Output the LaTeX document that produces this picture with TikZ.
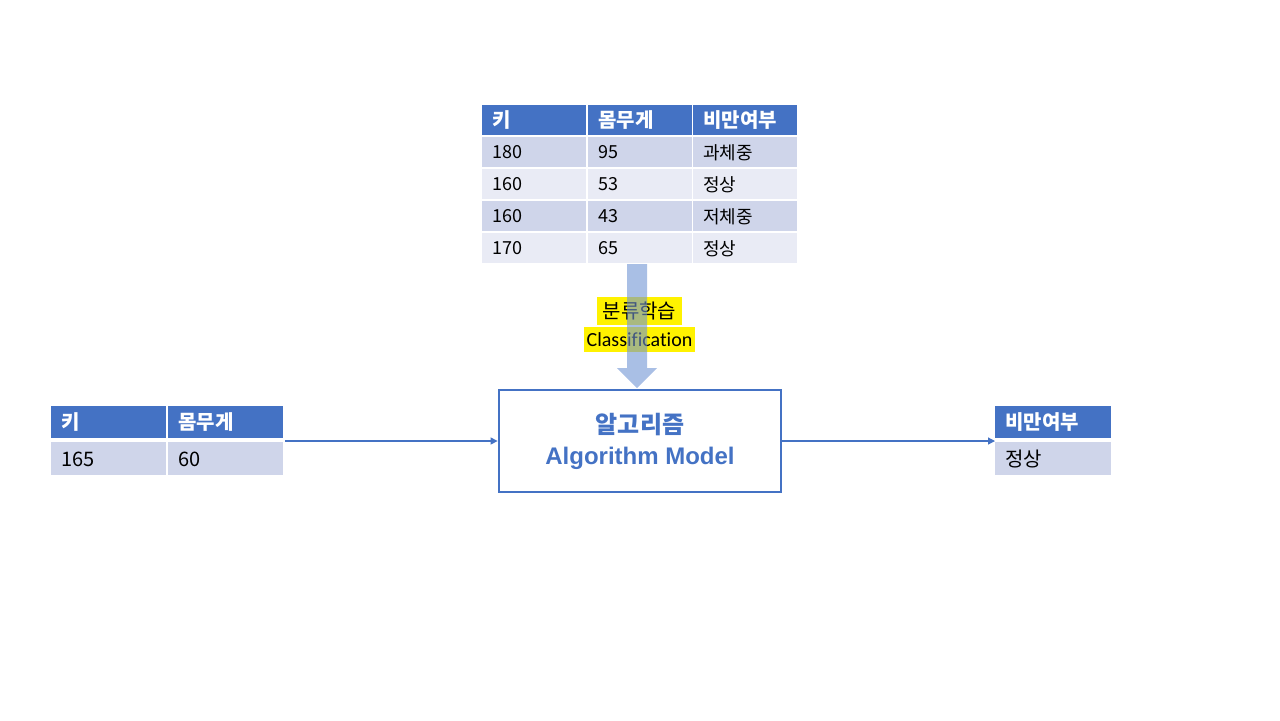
\documentclass[tikz,border=0pt]{standalone}
\usepackage{fontspec}
\usepackage{tikz}
\usetikzlibrary{arrows.meta}
\setmainfont{Noto Sans CJK KR}
\newfontfamily\arialfont{Liberation Sans}
\newfontfamily\calibrifont[Ligatures=NoCommon]{Carlito}
\definecolor{hdblue}{HTML}{4472C4}
\definecolor{rowdark}{HTML}{CFD5EA}
\definecolor{rowlight}{HTML}{E9EBF5}
\definecolor{arrowblue}{HTML}{7094D4}

\begin{document}
\begin{tikzpicture}[x=0.5pt,y=-0.5pt,
  cell/.style={anchor=north west,inner xsep=5pt,inner ysep=0pt,align=left,minimum height=#1},
  cell/.default=15pt,
  hd/.style={fill=hdblue,text=white,font=\bfseries},
  flow/.style={draw=hdblue,line width=0.6pt,-{Triangle[length=3.5pt,width=3.5pt]}},
  mark yellow/.style={fill=yellow,inner xsep=1.5pt,inner ysep=0pt}]

\useasboundingbox (0,0) rectangle (1280,720);

% Training data table
\begin{scope}[font=\fontsize{9}{9}\selectfont]
\node[cell,hd,text width=42pt] (th1) at (482,105) {키};
\node[cell,hd,text width=42pt] (th2) at (588,105) {몸무게};
\node[cell,hd,text width=42pt] (th3) at (693,105) {비만여부};
\foreach \a/\b/\c/\col [count=\i, evaluate=\i as \y using 137+(\i-1)*32] in
  {180/95/과체중/rowdark, 160/53/정상/rowlight, 160/43/저체중/rowdark, 170/65/정상/rowlight}{
  \node[cell,fill=\col,text width=42pt] (t\i a) at (482,\y) {\a};
  \node[cell,fill=\col,text width=42pt] (t\i b) at (588,\y) {\b};
  \node[cell,fill=\col,text width=42pt] (t\i c) at (693,\y) {\c};
}
\end{scope}

% Algorithm box
\node[draw=hdblue,line width=1.4pt,minimum width=141pt,minimum height=51pt,
  text=hdblue,align=center,font=\fontsize{12}{15.5}\selectfont\bfseries]
  (algo) at (640,441) {알고리즘\\{\arialfont Algorithm Model}};

% Classification label
\node[mark yellow,inner xsep=3pt,minimum height=14pt,font=\fontsize{10}{10}\selectfont] (cls1) at (639.5,311) {분류학습};
\node[mark yellow,minimum height=12.5pt,font=\fontsize{10}{10}\selectfont\calibrifont] (cls2) at (639.5,339.5) {Classification};

% Learning arrow (drawn over the label)
\coordinate (btop) at (637,264);
\fill[arrowblue,opacity=0.6] (btop) ++(-10,0) -- ++(0,104) -- ++(-10,0) -- ++(20,20)
  -- ++(20,-20) -- ++(-10,0) -- ++(0,-104) -- cycle;

% Input table
\begin{scope}[font=\fontsize{10}{10}\selectfont]
\node[cell=16pt,hd,text width=47.5pt] (ih1) at (51,406) {키};
\node[cell=16pt,hd,text width=47.5pt] (ih2) at (168,406) {몸무게};
\node[cell=16.5pt,fill=rowdark,text width=47.5pt] (i1a) at (51,442) {165};
\node[cell=16.5pt,fill=rowdark,text width=47.5pt] (i1b) at (168,442) {60};

% Output table
\node[cell=16pt,hd,text width=48pt] (oh1) at (995,406) {비만여부};
\node[cell=16.5pt,fill=rowdark,text width=48pt] (o1a) at (995,442) {정상};
\end{scope}

% Connectors
\coordinate (inout) at (285,441);
\coordinate (outin) at (995,441);
\draw[flow] (inout) -- (algo.west);
\draw[flow] (algo.east) -- (outin);

\end{tikzpicture}
\end{document}
